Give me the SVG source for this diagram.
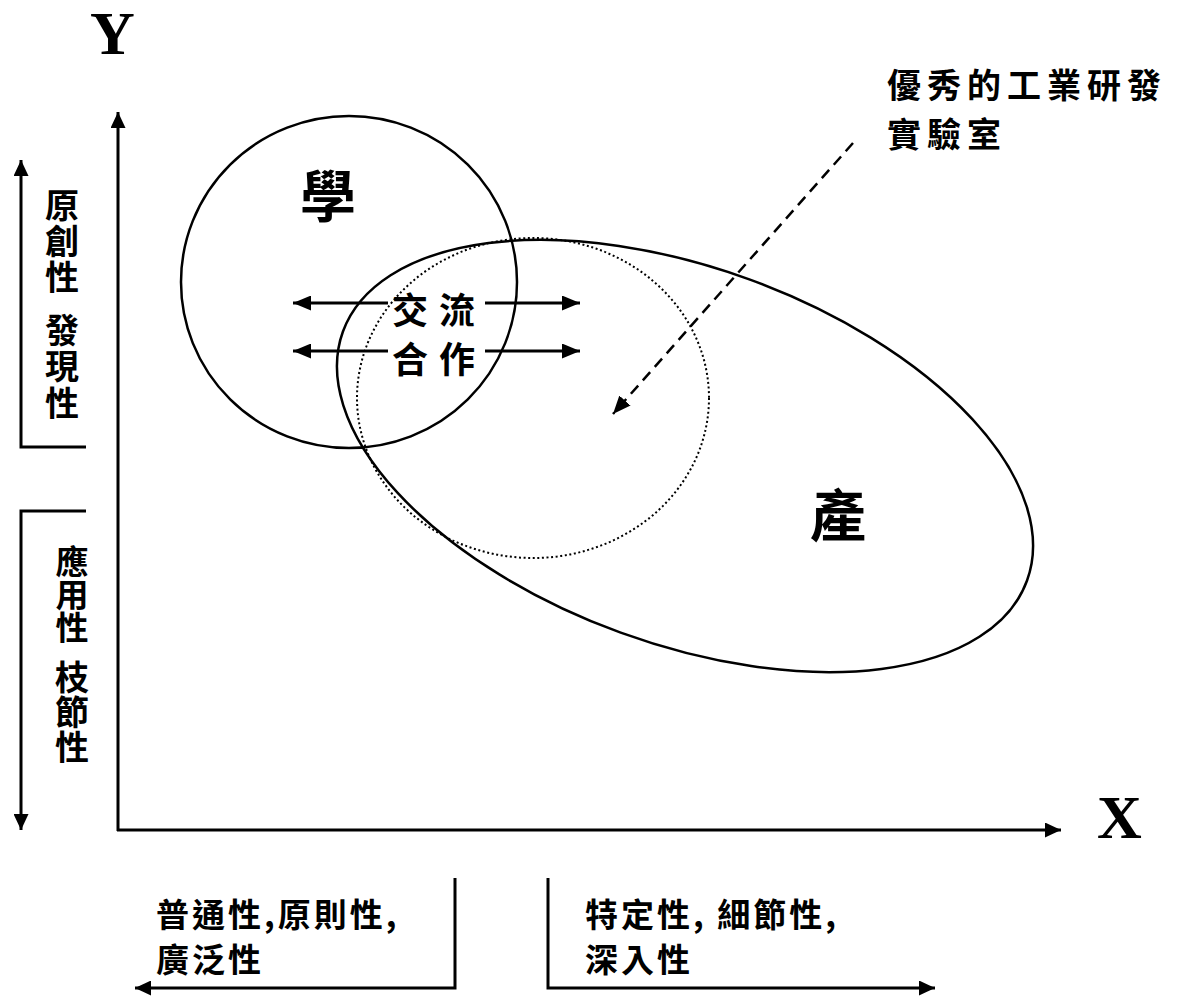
<svg xmlns="http://www.w3.org/2000/svg" width="1189" height="1000" viewBox="0 0 1189 1000">
  <style>
    .cjk { font-family: "Noto Sans CJK TC", "Noto Sans CJK SC", sans-serif; font-weight: 700; fill: #000; }
    .vert { writing-mode: vertical-rl; text-orientation: upright; }
    .axis-label { font-family: "Liberation Serif", serif; font-weight: 700; font-size: 62px; fill: #000; }
    .line { fill: none; stroke: #000; stroke-width: 3; }
    .shape { fill: none; stroke: #000; stroke-width: 2.5; }
    .dotted { fill: none; stroke: #000; stroke-width: 2; stroke-dasharray: 2 2.6; }
    .dashed { fill: none; stroke: #000; stroke-width: 2.5; stroke-dasharray: 11 7; }
  </style>
  <defs>
    <marker id="arr" viewBox="0 0 16 16" refX="16" refY="8" markerWidth="16" markerHeight="15" markerUnits="userSpaceOnUse" orient="auto" preserveAspectRatio="none">
      <path d="M0,0 L16,8 L0,16 z" fill="#000"/>
    </marker>
    <marker id="arr2" viewBox="0 0 18 16" refX="18" refY="8" markerWidth="18" markerHeight="15" markerUnits="userSpaceOnUse" orient="auto" preserveAspectRatio="none">
      <path d="M0,0 L18,8 L0,16 z" fill="#000"/>
    </marker>
  </defs>
  <rect width="1189" height="1000" fill="#fff"/>

  <g id="shapes">
    <g id="academia">
      <ellipse class="shape" cx="349" cy="282" rx="168" ry="166"/>
      <text class="cjk" x="328" y="217" font-size="56" text-anchor="middle">學</text>
    </g>
    <g id="industry">
      <ellipse class="shape" cx="0" cy="0" rx="364" ry="188" transform="translate(685 456) rotate(20)"/>
      <text class="cjk" x="838" y="536" font-size="56" text-anchor="middle">產</text>
    </g>
    <g id="lab">
      <ellipse class="dotted" cx="533" cy="398" rx="176" ry="160"/>
    </g>
  </g>

  <g id="connectors">
    <line id="y-axis" class="line" x1="118" y1="831" x2="118" y2="112" marker-end="url(#arr)"/>
    <line id="x-axis" class="line" x1="117" y1="830" x2="1061" y2="830" marker-end="url(#arr)"/>
    <polyline id="y-up" class="line" points="86,447 21,447 21,160" marker-end="url(#arr)"/>
    <polyline id="y-down" class="line" points="86,511 21,511 21,830" marker-end="url(#arr)"/>
    <polyline id="x-left" class="line" points="455,878 455,988 135,988" marker-end="url(#arr)"/>
    <polyline id="x-right" class="line" points="548,878 548,988 935,988" marker-end="url(#arr)"/>
    <line class="line" x1="388" y1="303" x2="293" y2="303" marker-end="url(#arr2)"/>
    <line class="line" x1="485" y1="303" x2="580" y2="303" marker-end="url(#arr2)"/>
    <line class="line" x1="388" y1="351" x2="293" y2="351" marker-end="url(#arr2)"/>
    <line class="line" x1="485" y1="351" x2="580" y2="351" marker-end="url(#arr2)"/>
    <line id="lab-pointer" class="dashed" x1="853" y1="143" x2="613" y2="414" marker-end="url(#arr2)"/>
  </g>

  <g id="axis-labels">
    <text class="axis-label" x="90" y="54">Y</text>
    <text class="axis-label" x="1097" y="838">X</text>
  </g>

  <g id="y-upper-label" class="cjk">
    <text class="vert" x="62" y="188" font-size="34" letter-spacing="2">原創性</text>
    <text class="vert" x="62" y="313" font-size="34" letter-spacing="2.5">發現性</text>
  </g>
  <g id="y-lower-label" class="cjk">
    <text class="vert" x="72" y="545" font-size="33" letter-spacing="0">應用性</text>
    <text class="vert" x="72" y="660" font-size="34" letter-spacing="1">枝節性</text>
  </g>

  <g id="exchange-label" class="cjk" font-size="36" text-anchor="middle">
    <text x="410" y="324">交</text>
    <text x="457" y="324">流</text>
    <text x="410" y="373">合</text>
    <text x="457" y="373">作</text>
  </g>

  <g id="lab-label" class="cjk" font-size="34" letter-spacing="6">
    <text x="887" y="98">優秀的工業研發</text>
    <text x="887" y="147">實驗室</text>
  </g>

  <g id="x-left-label" class="cjk" font-size="33" letter-spacing="3">
    <text x="156" y="927">普通性,原則性,</text>
    <text x="156" y="972">廣泛性</text>
  </g>
  <g id="x-right-label" class="cjk" font-size="33" letter-spacing="3">
    <text x="585" y="927">特定性, 細節性,</text>
    <text x="585" y="972">深入性</text>
  </g>
</svg>
